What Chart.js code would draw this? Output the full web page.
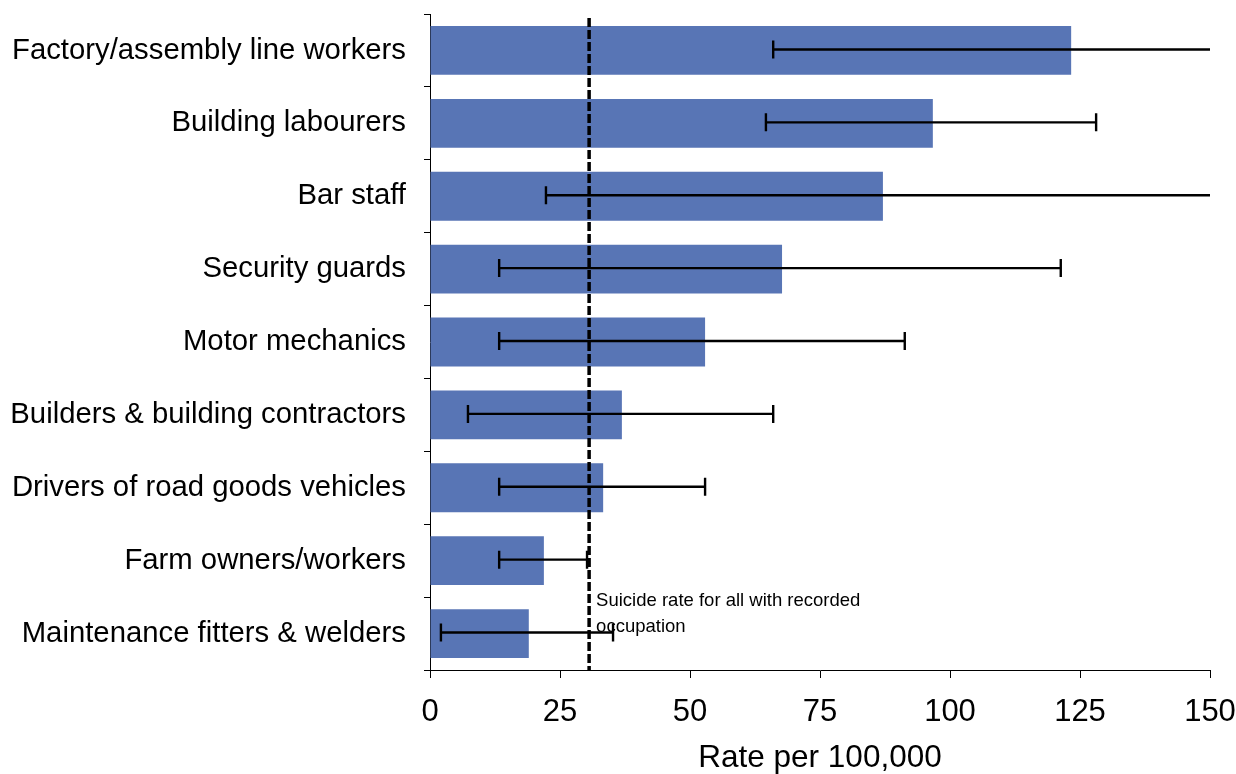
<!DOCTYPE html>
<html>
<head>
<meta charset="utf-8">
<script src="https://cdn.jsdelivr.net/npm/chart.js@4"></script>
<style>
    html, body { margin: 0; padding: 0; background: #ffffff; }
    #wrap { width: 1236px; height: 774px; }
</style>
</head>
<body>
<div id="wrap"><canvas id="rates" width="1236" height="774"></canvas></div>
<script>
const occupations = [
    'Factory/assembly line workers',
    'Building labourers',
    'Bar staff',
    'Security guards',
    'Motor mechanics',
    'Builders & building contractors',
    'Drivers of road goods vehicles',
    'Farm owners/workers',
    'Maintenance fitters & welders'
];
const rates = [123.3, 96.7, 87.1, 67.7, 52.9, 36.9, 33.3, 21.9, 19.0];
const lowerCI = [66.0, 64.6, 22.3, 13.3, 13.3, 7.3, 13.3, 13.3, 2.1];
// 150 = runs off the end of the axis
const upperCI = [150, 128.1, 150, 121.3, 91.3, 66.0, 52.9, 30.2, 35.2];
const xTicks = [0, 25, 50, 75, 100, 125, 150];
const overallRate = 30.6;
const overallLabel = ['Suicide rate for all with recorded', 'occupation'];

const FONT = '"Liberation Sans", Arial, Helvetica, sans-serif';
const barColor = '#5875b5';

// fixed axis boxes, no extra room for overhanging tick labels
const fixBox = (size) => (scale) => {
    if (scale.isHorizontal()) scale.height = size;
    else scale.width = size;
    scale.paddingTop = 0;
    scale.paddingBottom = 0;
    scale.paddingLeft = 0;
    scale.paddingRight = 0;
};

// whiskers with end caps (no cap where the interval leaves the axis)
const errorBarPlugin = {
    id: 'errorBarPlugin',
    afterDatasetsDraw(chart) {
        const ctx = chart.ctx;
        const xs = chart.scales.x;
        const ys = chart.scales.y;
        ctx.save();
        ctx.strokeStyle = '#000000';
        ctx.lineWidth = 2.4;
        occupations.forEach((name, i) => {
            const y = ys.getPixelForValue(i) - 1;
            const x0 = xs.getPixelForValue(lowerCI[i]);
            const x1 = xs.getPixelForValue(Math.min(upperCI[i], xs.max));
            ctx.beginPath();
            ctx.moveTo(x0, y);
            ctx.lineTo(x1, y);
            ctx.moveTo(x0, y - 9);
            ctx.lineTo(x0, y + 9);
            if (upperCI[i] < xs.max) {
                ctx.moveTo(x1, y - 9);
                ctx.lineTo(x1, y + 9);
            }
            ctx.stroke();
        });
        ctx.restore();
    }
};

// dashed reference line for the overall rate plus its note
const referenceLinePlugin = {
    id: 'referenceLinePlugin',
    afterDatasetsDraw(chart) {
        const ctx = chart.ctx;
        const xs = chart.scales.x;
        const ys = chart.scales.y;
        const area = chart.chartArea;
        const x = xs.getPixelForValue(overallRate);
        ctx.save();
        ctx.strokeStyle = '#000000';
        ctx.lineWidth = 3.5;
        ctx.setLineDash([9, 3]);
        ctx.beginPath();
        ctx.moveTo(x, area.top + 4);
        ctx.lineTo(x, area.bottom);
        ctx.stroke();
        ctx.setLineDash([]);

        ctx.font = `18.5px ${FONT}`;
        ctx.fillStyle = '#000000';
        ctx.textAlign = 'left';
        ctx.textBaseline = 'middle';
        const yLast = ys.getPixelForValue(occupations.length - 1);
        ctx.fillText(overallLabel[0], x + 7, yLast - 33);
        ctx.fillText(overallLabel[1], x + 7, yLast - 7);
        ctx.restore();
    }
};

new Chart(document.getElementById('rates').getContext('2d'), {
    type: 'bar',
    data: {
        labels: occupations,
        datasets: [{
            label: 'Rate per 100,000',
            data: rates,
            backgroundColor: barColor,
            barPercentage: 0.67,
            categoryPercentage: 1
        }]
    },
    options: {
        indexAxis: 'y',
        responsive: false,
        animation: false,
        layout: {
            padding: { left: 0, top: 14, right: 26, bottom: 0 }
        },
        plugins: {
            legend: { display: false },
            tooltip: { enabled: false }
        },
        scales: {
            x: {
                min: 0,
                max: 150,
                afterBuildTicks: (scale) => {
                    scale.ticks = xTicks.map(v => ({ value: v }));
                },
                afterFit: fixBox(104),
                border: { color: '#000000', width: 1 },
                grid: {
                    drawOnChartArea: false,
                    drawTicks: true,
                    tickLength: 8,
                    color: '#000000'
                },
                ticks: {
                    color: '#000000',
                    padding: 16,
                    maxRotation: 0,
                    font: { family: FONT, size: 31 }
                },
                title: {
                    display: true,
                    text: 'Rate per 100,000',
                    color: '#000000',
                    padding: { top: 0, bottom: 0 },
                    font: { family: FONT, size: 31.5, lineHeight: 1 }
                }
            },
            y: {
                afterFit: fixBox(430),
                border: { color: '#000000', width: 1 },
                grid: {
                    offset: true,
                    drawOnChartArea: false,
                    drawTicks: true,
                    tickLength: 6,
                    color: '#000000'
                },
                ticks: {
                    color: '#000000',
                    padding: 18,
                    font: { family: FONT, size: 29.3 }
                }
            }
        }
    },
    plugins: [errorBarPlugin, referenceLinePlugin]
});
</script>
</body>
</html>
